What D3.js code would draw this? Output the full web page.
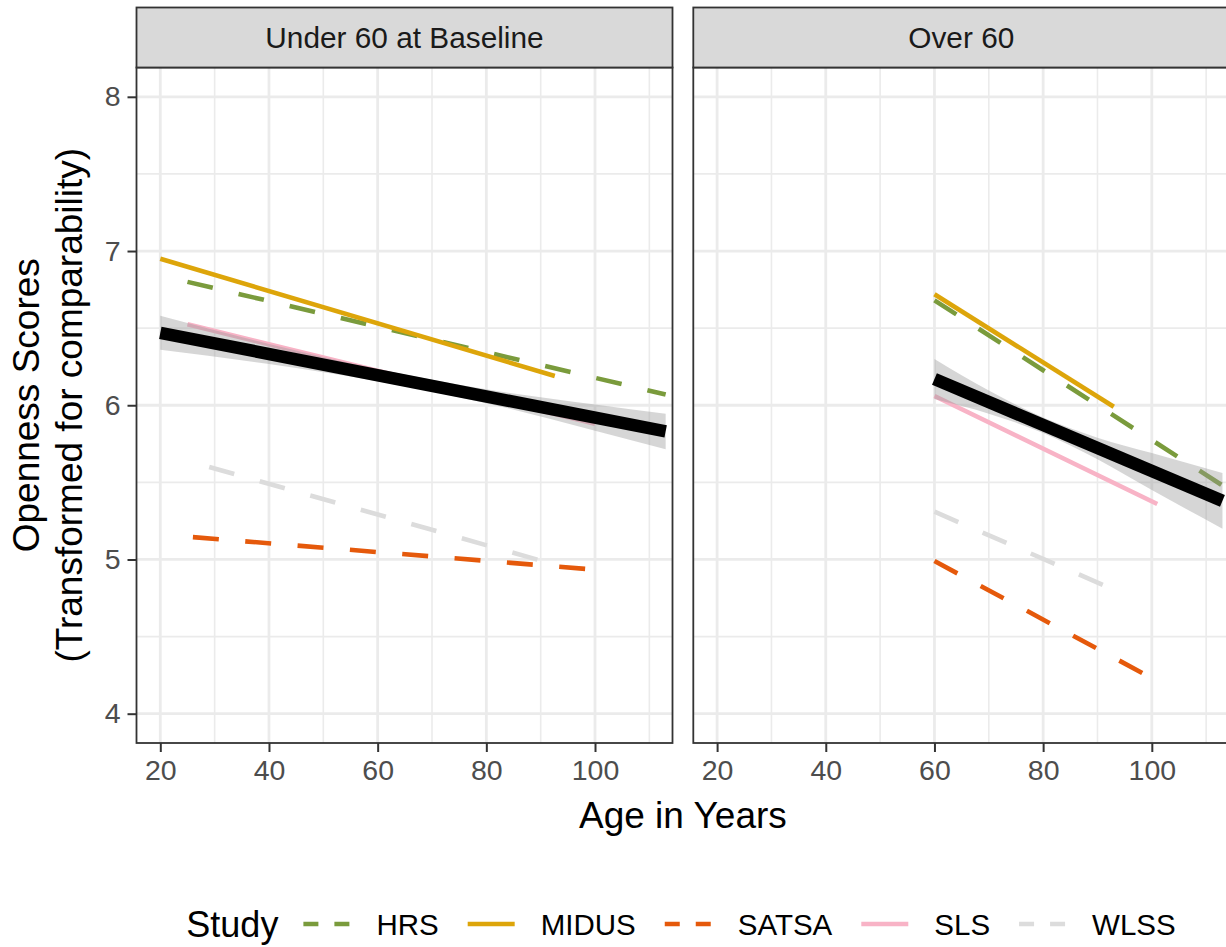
<!DOCTYPE html>
<html>
<head>
<meta charset="utf-8">
<script src="https://cdn.jsdelivr.net/npm/d3@7"></script>
<style>
  html, body { margin: 0; padding: 0; background: #fff; }
  svg { display: block; }
  text { font-family: "Liberation Sans", Arial, Helvetica, sans-serif; }
</style>
</head>
<body>
<svg id="chart" width="1226" height="947"></svg>
<script>
// ---------------- data ----------------
const panelNames = ["Under 60 at Baseline", "Over 60"];
const studies = ["HRS", "MIDUS", "SATSA", "SLS", "WLSS"];
const studyColors = ["#7A9B3C", "#DDA50A", "#E5590B", "#F8B3C6", "#DCDCDC"];
const studyDashed = [true, false, true, false, true];

// fitted line endpoints per study (age, score), panel 1: Under 60 at Baseline
const under60Age   = [[25, 113], [20, 92.6], [26, 99.6], [25, 100], [29, 90.3]];
const under60Score = [[6.80, 6.07], [6.95, 6.19], [5.145, 4.935], [6.525, 5.88], [5.60, 4.99]];
// panel 2: Over 60
const over60Age    = [[60, 113], [60, 93], [60, 99.5], [60, 101], [60, 92]];
const over60Score  = [[6.68, 5.48], [6.72, 5.99], [4.99, 4.24], [6.06, 5.36], [5.31, 4.82]];

// pooled fit (black) per panel
const pooledAge   = [[20, 113], [60, 113]];
const pooledScore = [[6.47, 5.83], [6.17, 5.38]];

// confidence ribbon of the pooled fit
const ribbonAgeUnder  = [20, 40, 60, 80, 100, 113];
const ribbonLowUnder  = [6.36, 6.267, 6.155, 6.013, 5.835, 5.715];
const ribbonHighUnder = [6.58, 6.397, 6.235, 6.103, 6.005, 5.945];
const ribbonAgeOver   = [60, 70, 80, 90, 100, 113];
const ribbonLowOver   = [6.04, 5.945, 5.82, 5.65, 5.45, 5.20];
const ribbonHighOver  = [6.30, 6.095, 5.92, 5.79, 5.69, 5.56];

const xTicks = [20, 40, 60, 80, 100];
const xMinor = [30, 50, 70, 90, 110];
const yTicks = [4, 5, 6, 7, 8];
const yMinor = [4.5, 5.5, 6.5, 7.5];

const xTitle = "Age in Years";
const yTitle = ["Openness Scores", "(Transformed for comparability)"];
const legendTitle = "Study";

// ---------------- layout ----------------
const svg = d3.select("#chart");
const panelTop = 67.5, panelBottom = 743;
const panelLefts = [136.5, 693.3];
const panelW = 536;
const stripTop = 7.5, stripH = 60;

const y = d3.scaleLinear().domain([3.81, 8.19]).range([panelBottom, panelTop]);

const panelData = [
  { ages: under60Age, scores: under60Score, pAge: pooledAge[0], pScore: pooledScore[0],
    rAge: ribbonAgeUnder, rLow: ribbonLowUnder, rHigh: ribbonHighUnder },
  { ages: over60Age, scores: over60Score, pAge: pooledAge[1], pScore: pooledScore[1],
    rAge: ribbonAgeOver, rLow: ribbonLowOver, rHigh: ribbonHighOver }
];

const defs = svg.append("defs");

panelData.forEach((pd, pi) => {
  const left = panelLefts[pi];
  const x = d3.scaleLinear().domain([15.62, 114.26]).range([left, left + panelW]);
  const g = svg.append("g");

  defs.append("clipPath").attr("id", "clip" + pi)
    .append("rect").attr("x", left).attr("y", panelTop).attr("width", panelW).attr("height", panelBottom - panelTop);

  g.append("rect").attr("x", left).attr("y", panelTop).attr("width", panelW)
    .attr("height", panelBottom - panelTop).attr("fill", "#fff");

  // grid
  const grid = g.append("g").attr("clip-path", `url(#clip${pi})`);
  grid.selectAll("line.ym").data(yMinor).join("line")
    .attr("x1", left).attr("x2", left + panelW)
    .attr("y1", d => y(d)).attr("y2", d => y(d))
    .attr("stroke", "#EBEBEB").attr("stroke-width", 1.6);
  grid.selectAll("line.xm").data(xMinor).join("line")
    .attr("y1", panelTop).attr("y2", panelBottom)
    .attr("x1", d => x(d)).attr("x2", d => x(d))
    .attr("stroke", "#EBEBEB").attr("stroke-width", 1.6);
  grid.selectAll("line.yM").data(yTicks).join("line")
    .attr("x1", left).attr("x2", left + panelW)
    .attr("y1", d => y(d)).attr("y2", d => y(d))
    .attr("stroke", "#EBEBEB").attr("stroke-width", 2.8);
  grid.selectAll("line.xM").data(xTicks).join("line")
    .attr("y1", panelTop).attr("y2", panelBottom)
    .attr("x1", d => x(d)).attr("x2", d => x(d))
    .attr("stroke", "#EBEBEB").attr("stroke-width", 2.8);

  const plot = g.append("g").attr("clip-path", `url(#clip${pi})`);
  const line = d3.line().x(d => x(d[0])).y(d => y(d[1]));

  // study lines
  studies.forEach((s, si) => {
    const pts = pd.ages[si].map((a, k) => [a, pd.scores[si][k]]);
    plot.append("path").datum(pts)
      .attr("d", line)
      .attr("fill", "none")
      .attr("stroke", studyColors[si])
      .attr("stroke-width", 4.6)
      .attr("stroke-linecap", "butt")
      .attr("stroke-dasharray", studyDashed[si] ? "26,26.5" : null);
  });

  // ribbon
  const rpts = pd.rAge.map((a, k) => ({ a, lo: pd.rLow[k], hi: pd.rHigh[k] }));
  const area = d3.area().curve(d3.curveMonotoneX)
    .x(d => x(d.a)).y0(d => y(d.lo)).y1(d => y(d.hi));
  plot.append("path").datum(rpts).attr("d", area)
    .attr("fill", "#999999").attr("fill-opacity", 0.4);

  // pooled line
  const ppts = pd.pAge.map((a, k) => [a, pd.pScore[k]]);
  plot.append("path").datum(ppts).attr("d", line)
    .attr("fill", "none").attr("stroke", "#000").attr("stroke-width", 12.5)
    .attr("stroke-linecap", "butt");

  // panel border
  g.append("rect").attr("x", left).attr("y", panelTop).attr("width", panelW)
    .attr("height", panelBottom - panelTop).attr("fill", "none")
    .attr("stroke", "#333333").attr("stroke-width", 1.8);

  // strip
  g.append("rect").attr("x", left).attr("y", stripTop).attr("width", panelW)
    .attr("height", stripH).attr("fill", "#D9D9D9")
    .attr("stroke", "#333333").attr("stroke-width", 1.8);
  g.append("text").attr("x", left + panelW / 2).attr("y", stripTop + stripH / 2)
    .attr("dy", "0.36em").attr("text-anchor", "middle")
    .attr("font-size", 29.8).attr("fill", "#1A1A1A").text(panelNames[pi]);

  // x axis
  const xAxis = d3.axisBottom(x).tickValues(xTicks).tickSize(9).tickPadding(6)
    .tickFormat(d3.format("d"));
  const xa = svg.append("g").attr("transform", `translate(0,${panelBottom})`).call(xAxis);
  xa.select(".domain").remove();
  xa.selectAll(".tick line").attr("stroke", "#333333").attr("stroke-width", 2);
  xa.selectAll(".tick text").attr("font-size", 28.5).attr("fill", "#4D4D4D")
    .attr("font-family", "Liberation Sans, Arial, sans-serif").attr("dy", "0.78em");
});

// y axis
const yAxis = d3.axisLeft(y).tickValues(yTicks).tickSize(9).tickPadding(7)
  .tickFormat(d3.format("d"));
const ya = svg.append("g").attr("transform", `translate(${panelLefts[0]},0)`).call(yAxis);
ya.select(".domain").remove();
ya.selectAll(".tick line").attr("stroke", "#333333").attr("stroke-width", 2);
ya.selectAll(".tick text").attr("font-size", 28.5).attr("fill", "#4D4D4D")
  .attr("font-family", "Liberation Sans, Arial, sans-serif");

// axis titles
svg.append("text").attr("x", (panelLefts[0] + panelLefts[1] + panelW) / 2).attr("y", 828)
  .attr("text-anchor", "middle").attr("font-size", 37).attr("fill", "#000").text(xTitle);

const yMid = (panelTop + panelBottom) / 2;
[39, 82].forEach((bx, i) => {
  svg.append("text").attr("transform", `translate(${bx},${yMid}) rotate(-90)`)
    .attr("text-anchor", "middle").attr("font-size", 37).attr("fill", "#000").text(yTitle[i]);
});

// legend
const legY = 924;
const leg = svg.append("g");
const titleT = leg.append("text").attr("y", legY).attr("dy", "0.36em")
  .attr("font-size", 36).attr("fill", "#000").text(legendTitle);
const items = studies.map((s, i) => {
  const key = leg.append("line").attr("y1", legY).attr("y2", legY)
    .attr("stroke", studyColors[i]).attr("stroke-width", 4.6)
    .attr("stroke-dasharray", studyDashed[i] ? "15,16" : null);
  const lab = leg.append("text").attr("y", legY).attr("dy", "0.36em")
    .attr("font-size", 29.5).attr("fill", "#000").text(s);
  return { key, lab };
});
const keyW = 47, gTitle = 25, gKeyLab = 26, gLabKey = 29;
let total = titleT.node().getComputedTextLength() + gTitle;
items.forEach((it, i) => {
  total += keyW + gKeyLab + it.lab.node().getComputedTextLength() + (i < items.length - 1 ? gLabKey : 0);
});
let cx = 681 - total / 2;
titleT.attr("x", cx);
cx += titleT.node().getComputedTextLength() + gTitle;
items.forEach((it, i) => {
  it.key.attr("x1", cx).attr("x2", cx + keyW);
  cx += keyW + gKeyLab;
  it.lab.attr("x", cx);
  cx += it.lab.node().getComputedTextLength() + gLabKey;
});
</script>
</body>
</html>
